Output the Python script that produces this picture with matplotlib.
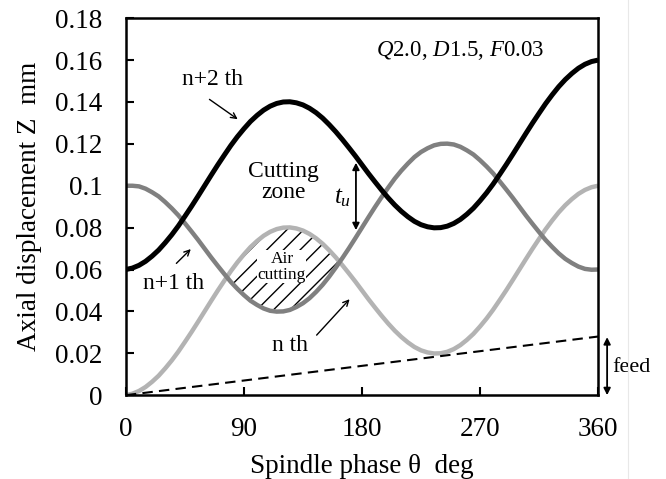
import matplotlib
matplotlib.use("Agg")
import matplotlib.pyplot as plt
from matplotlib.lines import Line2D

plt.rcParams['font.family'] = ['Liberation Serif', 'DejaVu Serif']
plt.rcParams['mathtext.fontset'] = 'custom'
plt.rcParams['mathtext.rm'] = 'Liberation Serif'
plt.rcParams['mathtext.it'] = 'Liberation Serif:italic'

# fase del husillo (grados), cada 5 grados
theta = list(range(0, 365, 5))

z_n = [0.0000, 0.0007, 0.0020, 0.0039, 0.0064, 0.0093, 0.0128, 0.0166, 0.0208, 0.0254,
       0.0301, 0.0350, 0.0400, 0.0450, 0.0499, 0.0546, 0.0592, 0.0634, 0.0672, 0.0707,
       0.0736, 0.0761, 0.0780, 0.0793, 0.0800, 0.0801, 0.0796, 0.0786, 0.0770, 0.0749,
       0.0723, 0.0692, 0.0658, 0.0621, 0.0582, 0.0542, 0.0500, 0.0458, 0.0418, 0.0379,
       0.0342, 0.0308, 0.0278, 0.0252, 0.0230, 0.0214, 0.0204, 0.0199, 0.0200, 0.0207,
       0.0220, 0.0239, 0.0264, 0.0293, 0.0328, 0.0366, 0.0408, 0.0454, 0.0501, 0.0550,
       0.0600, 0.0650, 0.0699, 0.0746, 0.0792, 0.0834, 0.0873, 0.0907, 0.0936, 0.0961,
       0.0980, 0.0993, 0.1000]

z_n1 = [0.1000, 0.1000, 0.0997, 0.0986, 0.0969, 0.0949, 0.0922, 0.0892, 0.0859, 0.0821,
        0.0782, 0.0742, 0.0700, 0.0658, 0.0618, 0.0579, 0.0541, 0.0508, 0.0478, 0.0451,
        0.0431, 0.0414, 0.0403, 0.0399, 0.0400, 0.0407, 0.0421, 0.0439, 0.0463, 0.0493,
        0.0527, 0.0566, 0.0609, 0.0654, 0.0701, 0.0750, 0.0800, 0.0850, 0.0899, 0.0946,
        0.0991, 0.1034, 0.1072, 0.1106, 0.1137, 0.1161, 0.1179, 0.1193, 0.1200, 0.1201,
        0.1197, 0.1186, 0.1169, 0.1149, 0.1122, 0.1092, 0.1059, 0.1021, 0.0982, 0.0942,
        0.0900, 0.0858, 0.0818, 0.0779, 0.0741, 0.0708, 0.0677, 0.0651, 0.0631, 0.0614,
        0.0603, 0.0599, 0.0600]

z_n2 = [0.0600, 0.0607, 0.0620, 0.0639, 0.0664, 0.0693, 0.0728, 0.0766, 0.0808, 0.0854,
        0.0901, 0.0950, 0.1000, 0.1050, 0.1099, 0.1146, 0.1192, 0.1234, 0.1272, 0.1307,
        0.1336, 0.1361, 0.1380, 0.1393, 0.1400, 0.1401, 0.1396, 0.1386, 0.1370, 0.1349,
        0.1323, 0.1292, 0.1258, 0.1221, 0.1182, 0.1142, 0.1100, 0.1058, 0.1018, 0.0979,
        0.0942, 0.0908, 0.0878, 0.0852, 0.0830, 0.0814, 0.0804, 0.0799, 0.0800, 0.0807,
        0.0820, 0.0839, 0.0864, 0.0893, 0.0928, 0.0966, 0.1008, 0.1054, 0.1101, 0.1150,
        0.1200, 0.1250, 0.1299, 0.1346, 0.1392, 0.1434, 0.1473, 0.1507, 0.1536, 0.1561,
        0.1580, 0.1593, 0.1600]

feed_x = [0, 360]
feed_z = [0, 0.028]

fig = plt.figure(figsize=(6.66, 4.79), dpi=100)
ax = fig.add_axes([0.189, 0.175, 0.709, 0.787])

# zona de corte en aire (rayada), solo la primera
aire = [a > b and t < 200 for a, b, t in zip(z_n, z_n1, theta)]
plt.rcParams['hatch.linewidth'] = 1.0
ax.fill_between(theta, z_n1, z_n, where=aire, interpolate=True,
                facecolor='none', edgecolor='black', hatch='//', linewidth=0)

ax.plot(theta, z_n, color='#b3b3b3', lw=3.2, solid_capstyle='butt')
ax.plot(theta, z_n1, color='#808080', lw=3.2, solid_capstyle='butt')
ax.plot(theta, z_n2, color='black', lw=3.6, solid_capstyle='butt')
ax.plot(feed_x, feed_z, color='black', lw=1.5, linestyle=(0, (5, 3)))

ax.set_xlim(0, 360)
ax.set_ylim(0, 0.18)
ax.set_xticks([0, 90, 180, 270, 360])
ax.set_yticks([0, 0.02, 0.04, 0.06, 0.08, 0.1, 0.12, 0.14, 0.16, 0.18])
ax.set_yticklabels(['0', '0.02', '0.04', '0.06', '0.08', '0.1', '0.12', '0.14', '0.16', '0.18'])
ax.tick_params(direction='in', length=6, width=1.5, labelsize=19.5)
ax.tick_params(axis='x', pad=16)
ax.tick_params(axis='y', pad=17)
for s in ax.spines.values():
    s.set_linewidth(1.8)

ax.set_xlabel('Spindle phase θ  deg', fontsize=19.5, labelpad=8)
ax.set_ylabel('Axial displacement Z  mm', fontsize=19.5, labelpad=9)

flecha = dict(arrowstyle='->', color='black', lw=1.0)
ax.text(66, 0.1505, 'n+2 th', fontsize=17, ha='center', va='center')
ax.annotate('', xy=(87, 0.131), xytext=(62, 0.142), arrowprops=flecha)
ax.annotate('', xy=(51, 0.0707), xytext=(37, 0.062), arrowprops=flecha)
ax.text(36.6, 0.0535, 'n+1 th', fontsize=17, ha='center', va='center')
ax.annotate('', xy=(172, 0.0468), xytext=(144, 0.0277), arrowprops=flecha)
ax.text(125, 0.0239, 'n th', fontsize=17, ha='center', va='center')

ax.text(120, 0.1017, 'Cutting\nzone', fontsize=17, ha='center', va='center',
        linespacing=1.0)
ax.text(119, 0.0614, 'Air\ncutting', fontsize=12.5, ha='center', va='center',
        linespacing=1.0, bbox=dict(facecolor='white', edgecolor='none', pad=0.2))

ax.annotate('', xy=(175.4, 0.111), xytext=(175.4, 0.0788),
            arrowprops=dict(arrowstyle='<|-|>', color='black', lw=1.3,
                            mutation_scale=10, shrinkA=0, shrinkB=0))
ax.text(165.5, 0.0945, r'$\mathit{t}_{\mathit{u}}$', fontsize=18, ha='center', va='center')

ax.text(254.7, 0.1647, r'$\mathit{Q}$2.0, $\mathit{D}$1.5, $\mathit{F}$0.03',
        fontsize=16.5, ha='center', va='center')

ax.annotate('', xy=(366.9, 0.0277), xytext=(366.9, 0.0),
            arrowprops=dict(arrowstyle='<|-|>', color='black', lw=1.3,
                            mutation_scale=10, shrinkA=0, shrinkB=0),
            annotation_clip=False)
ax.text(370.7, 0.0134, 'feed', fontsize=16, ha='left', va='center', clip_on=False)

fig.add_artist(Line2D([0.943, 0.943], [0.0, 1.0], color='#e8e8e8', lw=0.8))

fig.savefig('out.png', dpi=100)
